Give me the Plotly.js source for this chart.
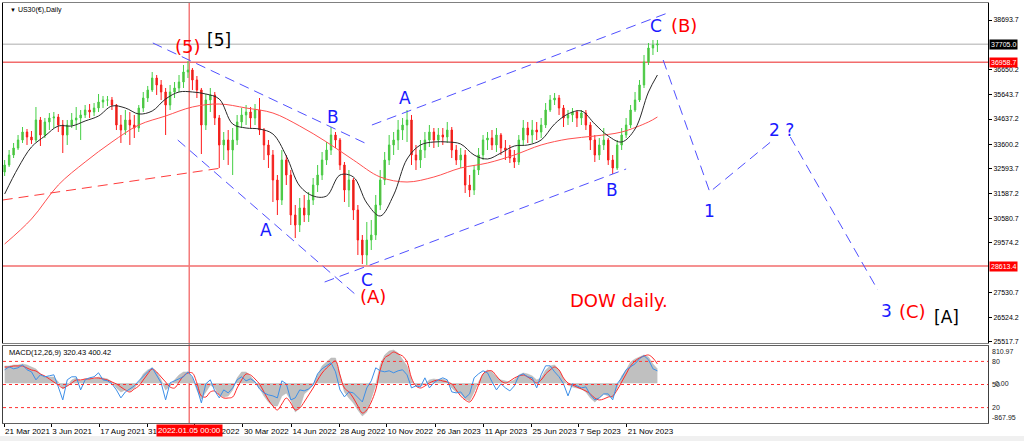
<!DOCTYPE html>
<html>
<head>
<meta charset="utf-8">
<script src="https://cdn.plot.ly/plotly-3.0.1.min.js"></script>
<style>html,body{margin:0;padding:0;background:#fff;}#chart{width:1024px;height:441px;}</style>
</head>
<body>
<div id="chart"></div>
<script>
// ---------- DATA ----------
const weeks = ['2021-03-22','2021-03-29','2021-04-05','2021-04-12','2021-04-19','2021-04-26','2021-05-03','2021-05-10','2021-05-17','2021-05-24',
'2021-05-31','2021-06-07','2021-06-14','2021-06-21','2021-06-28','2021-07-05','2021-07-12','2021-07-19','2021-07-26','2021-08-02',
'2021-08-09','2021-08-16','2021-08-23','2021-08-30','2021-09-06','2021-09-13','2021-09-20','2021-09-27','2021-10-04','2021-10-11',
'2021-10-18','2021-10-25','2021-11-01','2021-11-08','2021-11-15','2021-11-22','2021-11-29','2021-12-06','2021-12-13','2021-12-20',
'2021-12-27','2022-01-03','2022-01-10','2022-01-17','2022-01-24','2022-01-31','2022-02-07','2022-02-14','2022-02-21','2022-02-28',
'2022-03-07','2022-03-14','2022-03-21','2022-03-28','2022-04-04','2022-04-11','2022-04-18','2022-04-25','2022-05-02','2022-05-09',
'2022-05-16','2022-05-23','2022-05-30','2022-06-06','2022-06-13','2022-06-20','2022-06-27','2022-07-04','2022-07-11','2022-07-18',
'2022-07-25','2022-08-01','2022-08-08','2022-08-15','2022-08-22','2022-08-29','2022-09-05','2022-09-12','2022-09-19','2022-09-26',
'2022-10-03','2022-10-10','2022-10-17','2022-10-24','2022-10-31','2022-11-07','2022-11-14','2022-11-21','2022-11-28','2022-12-05',
'2022-12-12','2022-12-19','2022-12-26','2023-01-02','2023-01-09','2023-01-16','2023-01-23','2023-01-30','2023-02-06','2023-02-13',
'2023-02-20','2023-02-27','2023-03-06','2023-03-13','2023-03-20','2023-03-27','2023-04-03','2023-04-10','2023-04-17','2023-04-24',
'2023-05-01','2023-05-08','2023-05-15','2023-05-22','2023-05-29','2023-06-05','2023-06-12','2023-06-19','2023-06-26','2023-07-03',
'2023-07-10','2023-07-17','2023-07-24','2023-07-31','2023-08-07','2023-08-14','2023-08-21','2023-08-28','2023-09-04','2023-09-11',
'2023-09-18','2023-09-25','2023-10-02','2023-10-09','2023-10-16','2023-10-23','2023-10-30','2023-11-06','2023-11-13','2023-11-20',
'2023-11-27','2023-12-04','2023-12-11','2023-12-18','2023-12-25','2024-01-01','2024-01-08'];

const opens = [32468,32755,33164,33451,33778,34106,33901,33778,34598,33983,
34516,34680,34721,34393,33983,34393,34598,34680,34803,35007,
34925,35089,35335,35417,35417,35212,34393,34188,34598,34393,
34270,35089,35499,35827,36318,36032,35745,35212,35745,35909,
36154,36564,36646,36236,35827,34393,35417,35622,34680,33574,
33778,33369,33778,34516,34803,34925,34680,35007,34188,33574,
33164,32140,31321,32959,32345,30706,30297,30993,30706,31321,
31935,32345,32959,33369,33983,33778,32755,31730,32140,30911,
29682,29068,29682,29887,31116,32140,32959,33574,33778,34188,
34393,34598,33164,32959,33369,33778,34106,33778,33983,33901,
34188,33369,32959,33164,31935,31730,32550,33164,33778,33860,
33574,33983,33451,33369,33041,32877,33778,34270,33983,34188,
34106,34393,35007,35417,35499,35089,34680,34803,34925,34680,
34884,34393,33778,33164,33574,33778,32959,32632,33574,33983,
34393,35007,35417,36032,36973,37547,37670];

const highs = [32959,33369,33656,33983,34311,34229,34147,35130,34721,34680,
34884,34925,34844,34598,34598,34884,35130,35007,35212,35253,
35294,35663,35581,35581,35540,35253,34803,35007,34925,34803,
35212,35745,35991,36564,36441,36236,35909,36032,36154,36441,
36851,37014,36728,36400,35909,35663,35909,35745,34803,34106,
34188,34270,34803,35089,35212,35130,35253,35499,34270,33778,
33369,32345,33369,33164,32550,31116,31403,31526,31649,32222,
32755,33287,33697,34311,34106,33860,32877,32550,32222,31116,
29887,30420,30502,31526,32550,33287,33983,34106,34598,34680,
35007,34803,33574,33778,34106,34393,34270,34270,34270,34516,
34311,33574,33451,33369,32345,32755,33451,33983,34106,34188,
34270,34065,33778,33574,33369,33983,34598,34516,34598,34516,
34680,35294,35622,35704,35622,35212,35007,35089,35007,35007,
35007,34516,33983,33860,34270,33860,33164,33778,34270,34680,
35212,35745,36236,37260,37752,37875,37875];

const lows = [32304,32673,33041,33369,33656,33574,33615,33697,33533,33860,
34188,34270,34106,33246,33574,34270,34188,33778,34680,34680,
34762,34925,35089,35171,35007,34188,33656,33983,33574,33860,
34106,34925,35335,35745,35622,35417,33983,35007,35499,35745,
35909,36318,35827,35499,33205,34188,34925,34393,32632,32959,
32755,32345,33574,34270,34393,34270,34393,33983,32959,32632,
31239,30706,31116,31935,30297,29764,30010,30420,30420,31116,
31649,32140,32755,33164,33451,32550,31239,31034,30502,29068,
28700,28659,29273,29682,30911,31935,32755,33164,33369,33778,
33697,32755,32550,32632,33041,33492,33451,33492,33574,33656,
33041,32755,32632,31608,31444,31526,32345,32959,33369,33369,
33287,33164,32959,32836,32632,32755,33574,33656,33656,33778,
33860,34270,34925,35212,34803,34311,34393,34516,34311,34393,
34188,33369,32877,32959,33369,32755,32386,32550,33369,33860,
34270,34925,35335,35909,36851,37260,37383];

const closes = [32755,33164,33451,33778,34106,33901,33778,34598,33983,34516,
34680,34721,34393,33983,34393,34598,34680,34803,35007,34925,
35089,35335,35417,35417,35212,34393,34188,34598,34393,34270,
35089,35499,35827,36318,36032,35745,35212,35745,35909,36154,
36564,36646,36236,35827,34393,35417,35622,34680,33574,33778,
33369,33778,34516,34803,34925,34680,35007,34188,33574,33164,
32140,31321,32959,32345,30706,30297,30993,30706,31321,31935,
32345,32959,33369,33983,33778,32755,31730,32140,30911,29682,
29068,29682,29887,31116,32140,32959,33574,33778,34188,34393,
34598,33164,32959,33369,33778,34106,33778,33983,33901,34188,
33369,32959,33164,31935,31730,32550,33164,33778,33860,33574,
33983,33451,33369,33041,32877,33778,34270,33983,34188,34106,
34393,35007,35417,35499,35089,34680,34803,34925,34680,34884,
34393,33778,33164,33574,33778,32959,32632,33574,33983,34393,
35007,35417,36032,36973,37547,37670,37711];

const blackMaDates = ['2021-03-22','2021-04-12','2021-05-03','2021-05-24','2021-06-14','2021-07-05','2021-07-26','2021-08-16','2021-09-06','2021-09-27',
'2021-10-18','2021-11-08','2021-11-29','2021-12-20','2022-01-10','2022-01-31','2022-02-21','2022-03-14','2022-04-04','2022-04-25',
'2022-05-16','2022-06-06','2022-06-27','2022-07-18','2022-08-08','2022-08-29','2022-09-19','2022-10-10','2022-10-31','2022-11-21',
'2022-12-12','2023-01-02','2023-01-23','2023-02-13','2023-03-06','2023-03-27','2023-04-17','2023-05-08','2023-05-29','2023-06-19',
'2023-07-10','2023-07-31','2023-08-21','2023-09-11','2023-10-02','2023-10-23','2023-11-13','2023-12-04','2023-12-25','2024-01-08'];
const blackMa = [31567,32632,33492,33942,34352,34352,34557,34762,35171,35089,
34844,34966,35458,35745,35745,35663,35458,34434,34270,34229,
34024,33123,31894,31485,31485,32345,32263,31198,30665,31526,
33000,33574,33697,33697,33615,33164,33000,33246,33533,33574,
33778,34434,34844,34966,34434,33942,33697,34229,35745,36441];

const redMaDates = ['2021-03-22','2021-05-03','2021-06-14','2021-07-26','2021-09-06','2021-10-18','2021-11-29','2022-01-10','2022-02-21','2022-04-04',
'2022-05-16','2022-06-27','2022-08-08','2022-09-19','2022-10-31','2022-12-12','2023-01-23','2023-03-06','2023-04-17','2023-05-29',
'2023-07-10','2023-08-21','2023-10-02','2023-11-13','2023-12-25','2024-01-08'];
const redMa = [29519,30543,31935,32877,33697,34393,34762,35130,35253,35089,
34884,34352,33697,32959,32263,32058,32263,32632,32836,33164,
33574,33820,33942,34106,34516,34721];

const macdMain = [375,375,397,397,419,397,353,310,201,135,
135,135,26,-126,-61,70,113,48,92,113,
92,135,113,92,26,-105,-192,-148,-170,-105,
26,201,288,331,244,70,-148,-61,70,179,
244,244,113,-148,-344,-192,-39,-105,-257,-301,
-279,-148,113,244,244,157,26,-105,-279,-410,
-497,-497,-279,-214,-366,-628,-541,-235,-148,-39,
179,375,462,549,549,179,-192,-323,-432,-584,
-715,-628,-323,-39,397,615,702,724,658,506,
375,70,-61,-61,-17,70,92,70,92,48,
-105,-192,-235,-344,-388,-192,26,201,288,244,
135,70,48,26,70,179,222,201,157,70,
113,288,375,397,288,92,-39,-83,-105,-126,
-192,-323,-410,-323,-235,-279,-323,-105,157,288,
462,528,571,615,571,419,310];

const macdSignal = [353,353,375,375,375,331,288,266,201,157,
92,26,-39,-105,-61,4,70,70,92,92,
113,113,92,70,26,-17,-83,-148,-192,-126,
-61,70,201,310,244,135,26,-83,-105,26,
157,222,222,4,-279,-301,-192,-170,-257,-323,
-323,-301,-105,70,201,179,92,-17,-192,-366,
-497,-584,-453,-323,-432,-584,-541,-410,-257,-105,
70,222,331,419,484,179,-105,-192,-323,-497,
-650,-584,-410,-148,288,549,615,680,637,593,
462,113,-61,-105,-61,4,48,70,48,26,
-17,-148,-279,-366,-410,-279,-39,201,266,266,
157,48,4,48,113,157,179,135,70,4,
70,201,288,353,288,113,4,-39,-83,-126,
-170,-235,-323,-366,-344,-301,-279,-148,26,201,
375,484,549,593,615,549,419];

const rsi = [69.1,73.0,70.4,71.7,75.6,69.1,66.5,56.1,62.6,60.0,
61.3,62.6,46.9,30.0,56.1,60.0,60.0,43.0,56.1,58.7,
60.0,65.2,56.1,54.8,50.9,43.0,32.6,40.4,44.3,48.2,
54.8,61.3,66.5,71.7,62.6,52.2,30.0,52.2,54.8,57.4,
60.0,66.5,60.0,45.6,26.1,50.9,56.1,41.7,32.6,43.0,
39.1,45.6,56.1,60.0,54.8,57.4,53.5,44.3,39.1,36.5,
35.2,32.6,54.8,50.9,30.0,32.6,43.0,41.7,44.3,49.6,
63.9,70.4,74.3,78.2,66.5,43.0,33.9,40.4,39.1,32.6,
27.4,45.6,54.8,71.7,67.8,66.5,67.8,65.2,67.8,69.1,
62.6,45.6,48.2,46.9,58.7,45.6,52.2,56.1,58.7,56.1,
40.4,39.1,40.4,32.6,37.8,58.7,63.9,67.8,65.2,53.5,
43.0,50.9,45.6,41.7,48.2,61.3,63.9,60.0,58.7,45.6,
62.6,74.3,74.3,66.5,60.0,50.9,35.2,50.9,48.2,45.6,
46.9,36.5,30.0,32.6,37.8,37.8,30.0,50.9,58.7,69.1,
73.0,76.9,83.5,87.4,82.2,70.4,67.8];
const rsiLevels = [80, 50, 20];
const macdLabel = 'MACD(12,26,9) 320.43 400.42';

// horizontal levels and marker date
const levelRed = [36958.7, 28613.4];
const currentPrice = 37705.0;
const markerDate = '2022-01-05';
const markerLabel = '2022.01.05 00:00';

// wave channel lines and projection
const downUpperX = ['2021-11-09','2022-10-07'], downUpperY = [37752, 33656];
const downLowerX = ['2021-12-18','2022-09-25'], downLowerY = [33779, 27389];
const upLowerX = ['2022-08-05','2023-11-20'], upLowerY = [27962, 32591];
const upUpperX = ['2022-10-18','2024-01-28'], upUpperY = [34393, 39021];
const projAX = ['2024-01-17','2024-03-30','2024-07-07'], projAY = [37055, 31649, 33779];
const projBX = ['2024-08-03','2024-12-18'], projBY = [33901, 27635];
const redTrendX = ['2021-03-19','2022-02-25'], redTrendY = [31321, 32632];

// wave labels
const labelText = ['(5)','[5]','A','B','C','(A)','A','B','C','(B)','1','2 ?','3','(C)','[A]','DOW daily.'];
const labelDate = ['2022-01-03','2022-02-20','2022-05-05','2022-08-18','2022-10-10','2022-10-20','2022-12-09','2023-10-29','2024-01-06','2024-02-19','2024-03-29','2024-07-21','2024-12-31','2025-02-11','2025-04-04','2023-11-09'];
const labelPrice = [37588,37875,30092,34721,28044,27348,35499,31731,38448,38489,30870,34188,26774,26774,26528,27225];

// axis ticks
const priceTicks = [38693.7,36650.2,35643.7,34637.2,33600.2,32593.7,31587.2,30580.7,29574.2,27530.7,26524.2,25517.7];
const dateTicks = ['2021-03-21','2021-06-03','2021-08-17','2021-10-31','2022-01-13','2022-03-30','2022-06-14','2022-08-28','2022-11-10','2023-01-26','2023-04-11','2023-06-25','2023-09-07','2023-11-21'];
const dateTickLabels = ['21 Mar 2021','3 Jun 2021','17 Aug 2021','31 Oct 2021','13 Jan 2022','30 Mar 2022','14 Jun 2022','28 Aug 2022','10 Nov 2022','26 Jan 2023','11 Apr 2023','25 Jun 2023','7 Sep 2023','21 Nov 2023'];
const macdMax = 810.97, macdMin = -867.95;

// ---------- STYLE / BUILD ----------
const BLUE = 'rgb(25,25,255)';
const WAVE = 'rgb(80,80,255)';
const RED = '#ff0000';
const LVL = '#f26c6c';
const xRange = ['2021-03-19 10:00','2025-06-08 14:00'];
const dash = '10px,6px';

const traces = [];
traces.push({type:'candlestick', x:weeks, open:opens, high:highs, low:lows, close:closes,
  xaxis:'x', yaxis:'y', whiskerwidth:0, hoverinfo:'skip',
  increasing:{line:{color:'#44cf44', width:1}, fillcolor:'#6aa33a'},
  decreasing:{line:{color:'#ff1a1a', width:1}, fillcolor:'#b8361e'}});
traces.push({type:'scatter', mode:'lines', x:redMaDates, y:redMa, xaxis:'x', yaxis:'y',
  line:{color:'#ff5050', width:1, shape:'spline'}, hoverinfo:'skip'});
traces.push({type:'scatter', mode:'lines', x:blackMaDates, y:blackMa, xaxis:'x', yaxis:'y',
  line:{color:'#2a2a2a', width:1, shape:'spline'}, hoverinfo:'skip'});
traces.push({type:'scatter', mode:'lines', x:redTrendX, y:redTrendY, xaxis:'x', yaxis:'y',
  line:{color:'#ff3c3c', width:1, dash:dash}, hoverinfo:'skip'});
[[downUpperX,downUpperY],[downLowerX,downLowerY],[upLowerX,upLowerY],[upUpperX,upUpperY],[projAX,projAY],[projBX,projBY]].forEach(p=>{
  traces.push({type:'scatter', mode:'lines', x:p[0], y:p[1], xaxis:'x', yaxis:'y',
    line:{color:WAVE, width:1, dash:dash}, hoverinfo:'skip'});
});
// MACD window
traces.push({type:'scatter', mode:'lines', x:weeks, y:macdMain, xaxis:'x2', yaxis:'y2', fill:'tozeroy',
  fillcolor:'#c0c0c0', line:{color:'#b4b4b4', width:0.5}, hoverinfo:'skip'});
traces.push({type:'scatter', mode:'lines', x:weeks, y:rsi, xaxis:'x2', yaxis:'y3',
  line:{color:'#3d8fe8', width:1}, hoverinfo:'skip'});
traces.push({type:'scatter', mode:'lines', x:weeks, y:macdSignal, xaxis:'x2', yaxis:'y2',
  line:{color:'#ff2a2a', width:1, shape:'spline'}, hoverinfo:'skip'});

const shapes = [];
shapes.push({type:'line', xref:'paper', x0:0, x1:1, yref:'y', y0:currentPrice, y1:currentPrice, line:{color:'#c8c8c8', width:1.5}, layer:'below'});
levelRed.forEach(v=>shapes.push({type:'line', xref:'paper', x0:0, x1:1, yref:'y', y0:v, y1:v, line:{color:LVL, width:1.5}, layer:'below'}));
shapes.push({type:'line', xref:'x', x0:markerDate, x1:markerDate, yref:'paper', y0:0, y1:1, line:{color:'#f47a7a', width:1.5}, layer:'below'});
rsiLevels.forEach(v=>shapes.push({type:'line', xref:'paper', x0:0, x1:1, yref:'y3', y0:v, y1:v, line:{color:'#ff3030', width:1, dash:'dot'}, layer:'above'}));
shapes.push({type:'rect', xref:'paper', x0:-0.01, x1:1.05, yref:'paper', y0:-0.031, y1:-0.045, fillcolor:'#f0f0f0', line:{width:0}, layer:'below'});

const annotations = [];
labelText.forEach((t,i)=>{
  let color = BLUE, size = 17;
  if (t.startsWith('(') || t === 'DOW daily.') { color = RED; size = 18; }
  else if (t.startsWith('[')) { color = '#000000'; size = 17; }
  annotations.push({x:labelDate[i], y:labelPrice[i], xref:'x', yref:'y', text:t, showarrow:false,
    xanchor:'center', yanchor:'middle', font:{family:'DejaVu Sans', size:size, color:color}});
});
annotations.push({xref:'paper', yref:'paper', x:0.005, y:0.983, xanchor:'left', yanchor:'middle', showarrow:false,
  text:'<span style="font-size:6px">▼</span> US30(€),Daily', font:{family:'Liberation Sans', size:7, color:'#000'}});
annotations.push({xref:'paper', yref:'paper', x:0.004, y:0.169, xanchor:'left', yanchor:'middle', showarrow:false,
  text:macdLabel, font:{family:'Liberation Sans', size:7.5, color:'#000'}});
annotations.push({xref:'paper', yref:'y', x:1, y:currentPrice, xanchor:'left', yanchor:'middle', xshift:1, showarrow:false,
  text:currentPrice.toFixed(1), bgcolor:'#000', borderpad:1, font:{family:'Liberation Sans', size:7, color:'#fff'}});
levelRed.forEach(v=>annotations.push({xref:'paper', yref:'y', x:1, y:v, xanchor:'left', yanchor:'middle', xshift:1, showarrow:false,
  text:v.toFixed(1), bgcolor:'#ff0000', borderpad:1, font:{family:'Liberation Sans', size:7, color:'#fff'}}));
annotations.push({xref:'x', yref:'paper', x:markerDate, y:-0.017, xanchor:'center', yanchor:'middle', showarrow:false,
  text:markerLabel, bgcolor:'#ff0000', borderpad:1, font:{family:'Liberation Sans', size:8, color:'#fff'}});
// MACD window scale labels
[[macdMax,'y2','top'],[0,'y2','middle'],[macdMin,'y2','bottom']].forEach(a=>annotations.push({xref:'paper', yref:a[1], x:1, y:a[0], xanchor:'left', yanchor:a[2], xshift:a[0]===0?5:2, showarrow:false,
  text:a[0]===0?'0.00':a[0].toFixed(2), font:{family:'Liberation Sans', size:7, color:'#222'}}));
rsiLevels.forEach(v=>annotations.push({xref:'paper', yref:'y3', x:1, y:v, xanchor:'left', yanchor:'middle', xshift:2, showarrow:false,
  text:String(v), font:{family:'Liberation Sans', size:7, color:'#222'}}));

const layout = {
  width:1024, height:441,
  margin:{l:3, r:36, t:3, b:18},
  paper_bgcolor:'#ffffff', plot_bgcolor:'#ffffff',
  showlegend:false, boxgap:0.55,
  font:{family:'Liberation Sans, Arial, sans-serif', size:8, color:'#000'},
  xaxis:{type:'date', domain:[0,1], anchor:'y', range:xRange, showticklabels:false, ticks:'',
    showgrid:false, zeroline:false, showline:true, mirror:true, linecolor:'#808080', linewidth:1, rangeslider:{visible:false}},
  yaxis:{domain:[0.1905,1], anchor:'x', range:[25464,39390], side:'right', tickvals:priceTicks, ticktext:priceTicks.map(v=>v.toFixed(1)),
    ticks:'outside', ticklen:3, tickcolor:'#000', tickfont:{family:'Liberation Sans', size:7, color:'#000'},
    showgrid:false, zeroline:false, showline:true, mirror:true, linecolor:'#000', linewidth:1},
  xaxis2:{type:'date', domain:[0,1], anchor:'y2', range:xRange, tickvals:dateTicks, ticktext:dateTickLabels,
    ticks:'outside', ticklen:3, tickcolor:'#000', ticklabelposition:'outside right', tickangle:0,
    tickfont:{family:'Liberation Sans', size:8, color:'#000'},
    showgrid:false, zeroline:false, showline:true, mirror:true, linecolor:'#606060', linewidth:1},
  yaxis2:{domain:[0,0.1833], anchor:'x2', range:[macdMin,macdMax], showticklabels:false, ticks:'',
    showgrid:false, zeroline:false, showline:true, mirror:true, linecolor:'#404040', linewidth:1},
  yaxis3:{overlaying:'y2', anchor:'x2', range:[0,100], visible:false, showgrid:false, zeroline:false},
  shapes:shapes,
  annotations:annotations
};

Plotly.newPlot('chart', traces, layout, {staticPlot:true, displayModeBar:false});
</script>
</body>
</html>
